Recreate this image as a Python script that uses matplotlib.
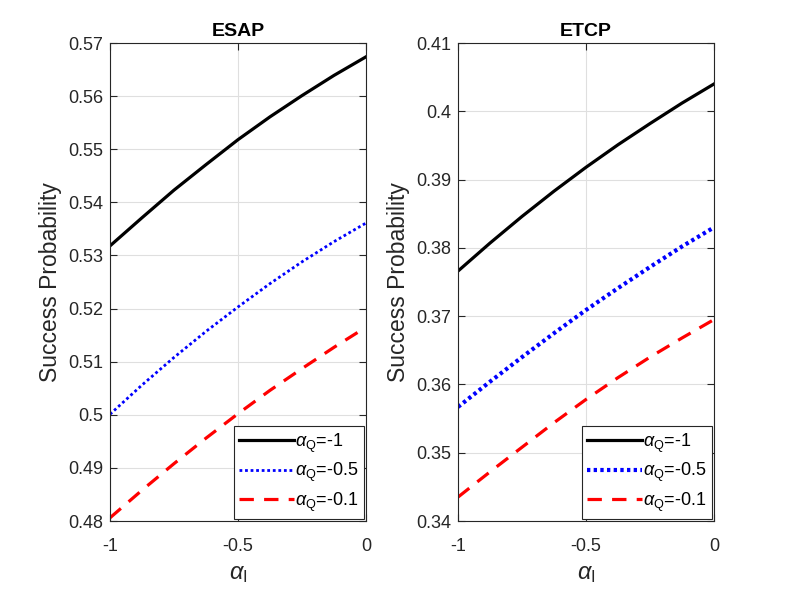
import matplotlib
matplotlib.use("Agg")
import matplotlib.pyplot as plt

plt.rcParams['font.family'] = ['Liberation Sans', 'DejaVu Sans']
plt.rcParams['mathtext.fontset'] = 'custom'
plt.rcParams['mathtext.rm'] = 'Liberation Sans'
plt.rcParams['mathtext.it'] = 'Liberation Sans:italic'
plt.rcParams['mathtext.bf'] = 'Liberation Sans:bold'

alpha_I = [-1.0, -0.875, -0.75, -0.625, -0.5, -0.375, -0.25, -0.125, 0.0]

esap_q1 = [0.5318, 0.5371, 0.5423, 0.5471, 0.5518, 0.5561, 0.5601, 0.5639, 0.5674]
esap_q05 = [0.5001, 0.5056, 0.5108, 0.5157, 0.5203, 0.5247, 0.5288, 0.5326, 0.5361]
esap_q01 = [0.4806, 0.4858, 0.4908, 0.4956, 0.5002, 0.5046, 0.5087, 0.5127, 0.5165]

etcp_q1 = [0.3766, 0.3807, 0.3846, 0.3883, 0.3918, 0.3951, 0.3982, 0.4012, 0.4040]
etcp_q05 = [0.3567, 0.3604, 0.3640, 0.3675, 0.3709, 0.3741, 0.3772, 0.3802, 0.3830]
etcp_q01 = [0.3435, 0.3472, 0.3508, 0.3544, 0.3578, 0.3610, 0.3640, 0.3668, 0.3695]

titles = ['ESAP', 'ETCP']
ylims = [(0.48, 0.57), (0.34, 0.41)]
yticks = [[0.48, 0.49, 0.50, 0.51, 0.52, 0.53, 0.54, 0.55, 0.56, 0.57],
          [0.34, 0.35, 0.36, 0.37, 0.38, 0.39, 0.40, 0.41]]
ytick_labels = [['0.48', '0.49', '0.5', '0.51', '0.52', '0.53', '0.54', '0.55', '0.56', '0.57'],
                ['0.34', '0.35', '0.36', '0.37', '0.38', '0.39', '0.4', '0.41']]
xticks = [-1, -0.5, 0]
xtick_labels = ['-1', '-0.5', '0']
legend_labels = [r'$\alpha_{\rm Q}$=-1', r'$\alpha_{\rm Q}$=-0.5', r'$\alpha_{\rm Q}$=-0.1']
series = [[esap_q1, esap_q05, esap_q01], [etcp_q1, etcp_q05, etcp_q01]]

fig = plt.figure(figsize=(7.89, 5.92), dpi=100)
W, H = 789, 592
ax_pos = [(110, 43, 256, 478), (458, 43, 256, 478)]
blue_lw = [2.0, 3.0]
blue_ls = [(0, (1, 1)), (0, (0.8, 0.8))]
axc = '#262626'
for i in range(2):
    x0, y0, w, h = ax_pos[i]
    ax = fig.add_axes([x0 / W, 1 - (y0 + h) / H, w / W, h / H])
    s = series[i]
    ax.plot(alpha_I, s[0], color='black', lw=2.3, ls='-', label=legend_labels[0])
    ax.plot(alpha_I, s[1], color='blue', lw=blue_lw[i], ls=blue_ls[i], label=legend_labels[1])
    ax.plot(alpha_I, s[2], color='red', lw=2.3, ls=(0, (4.5, 3.2)), label=legend_labels[2])
    ax.set_xlim(-1, 0)
    ax.set_ylim(*ylims[i])
    ax.set_xticks(xticks)
    ax.set_xticklabels(xtick_labels)
    ax.set_yticks(yticks[i])
    ax.set_yticklabels(ytick_labels[i])
    ax.grid(True, color='#dfdfdf', lw=0.8)
    ax.set_axisbelow(True)
    ax.tick_params(direction='in', top=True, right=True, labelsize=13, colors=axc, length=5, width=0.8)
    ax.tick_params(axis='x', pad=12)
    ax.tick_params(axis='y', pad=5)
    for sp in ax.spines.values():
        sp.set_color(axc)
        sp.set_linewidth(0.8)
    ax.set_title(titles[i], fontsize=14, fontweight='bold', pad=5)
    ax.set_ylabel('Success Probability', fontsize=16.5, color=axc, labelpad=4)
    ax.set_xlabel(r'$\alpha_{\rm I}$', fontsize=17, color=axc, labelpad=6)
    leg = ax.legend(loc='lower right', fontsize=13, handlelength=3.0, handletextpad=0.1,
                    borderaxespad=0.1, fancybox=False, framealpha=1, edgecolor=axc,
                    labelspacing=0.35, borderpad=0.3)
    leg.get_frame().set_linewidth(0.8)

fig.savefig('out.png', dpi=100)
